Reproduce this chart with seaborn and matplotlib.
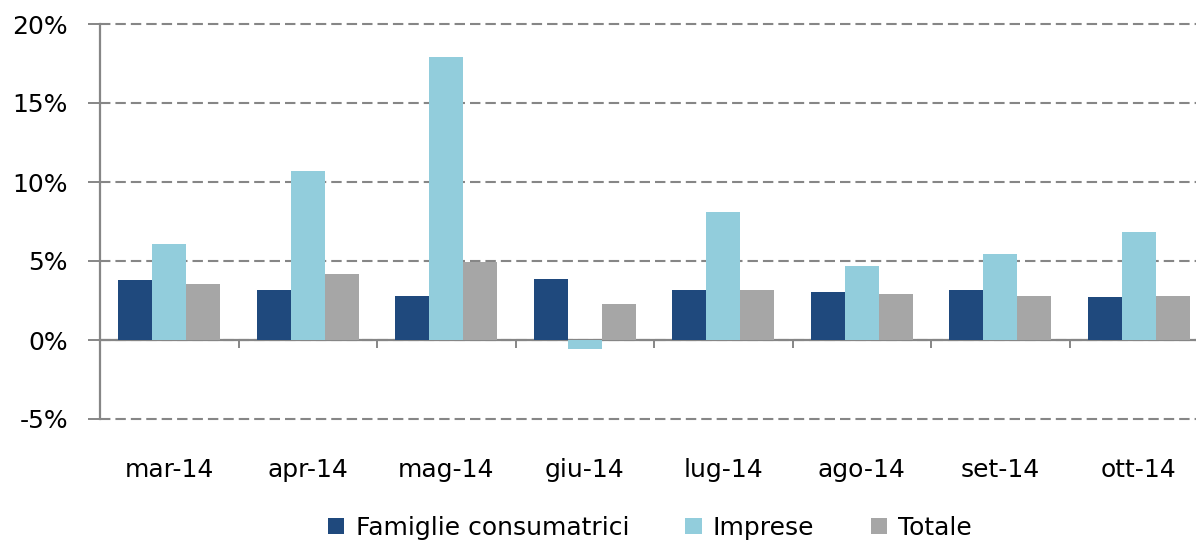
import matplotlib
matplotlib.use("Agg")
import matplotlib.pyplot as plt
import seaborn as sns
import pandas as pd
from matplotlib.ticker import FuncFormatter, MultipleLocator

# Monthly growth rates (%) by borrower type
mesi = ["mar-14", "apr-14", "mag-14", "giu-14", "lug-14", "ago-14", "set-14", "ott-14"]
famiglie = [3.80, 3.17, 2.79, 3.83, 3.17, 3.03, 3.17, 2.69]
imprese = [6.05, 10.72, 17.89, -0.57, 8.07, 4.69, 5.42, 6.83]
totale = [3.55, 4.18, 4.94, 2.29, 3.17, 2.92, 2.80, 2.80]

serie = ["Famiglie consumatrici", "Imprese", "Totale"]
colori = ["#1F497D", "#92CDDC", "#A6A6A6"]

df = pd.DataFrame({
    "mese": mesi * 3,
    "valore": famiglie + imprese + totale,
    "serie": [serie[0]] * len(mesi) + [serie[1]] * len(mesi) + [serie[2]] * len(mesi),
})

sns.set_theme(style="white")
plt.rcParams["font.family"] = ["DejaVu Sans"]

W, H = 1196, 542
fig = plt.figure(figsize=(W / 100, H / 100), dpi=100)
ax = fig.add_axes([100 / W, (H - 419) / H, (1208 - 100) / W, (419 - 24) / H])

grey = "#868686"

sns.barplot(data=df, x="mese", y="valore", hue="serie", order=mesi,
            hue_order=serie, palette=colori, width=0.74, gap=0,
            saturation=1, ax=ax, legend=True, zorder=3,
            edgecolor="none", linewidth=0)

ax.set_xlim(-0.5, len(mesi) - 0.5)
ax.set_ylim(-5, 20)
ax.yaxis.set_major_locator(MultipleLocator(5))
ax.yaxis.set_major_formatter(FuncFormatter(lambda v, p: f"{v:.0f}%"))

# dashed horizontal gridlines
ax.yaxis.grid(True, color=grey, linestyle=(0, (5, 2.4)), linewidth=1.5, zorder=0)
ax.xaxis.grid(False)
for gl in ax.get_ygridlines():
    gl.set_clip_on(False)

for s in ["top", "right", "bottom"]:
    ax.spines[s].set_visible(False)
ax.spines["left"].set_color(grey)
ax.spines["left"].set_linewidth(1.6)

ax.tick_params(axis="y", which="major", direction="out", length=9, width=1.4,
               color=grey, pad=14, labelsize=18, labelcolor="#000000", left=True)
ax.tick_params(axis="x", which="major", length=0, pad=28, labelsize=18,
               labelcolor="#000000")
ax.set_xlabel("")
ax.set_ylabel("")

# category axis drawn along the zero line, with ticks between groups
zero_frac = (0 - (-5)) / 25
sec = ax.secondary_xaxis(zero_frac)
sec.spines["bottom"].set_color(grey)
sec.spines["bottom"].set_linewidth(1.6)
sec.set_xticks([i + 0.5 for i in range(len(mesi))])
sec.set_xticklabels([])
sec.tick_params(axis="x", direction="out", length=6, width=1.4, color=grey)

# legend below the plot
handles, labels = ax.get_legend_handles_labels()
ax.legend_.remove()
fig.legend(handles, labels, loc="center", bbox_to_anchor=(650 / W, 1 - 528 / H),
           ncol=3, frameon=False, fontsize=18, labelcolor="#000000",
           handlelength=0.65, handleheight=0.6, handletextpad=0.45,
           columnspacing=2.25, borderaxespad=0, borderpad=0)

fig.savefig("out.png", dpi=100, facecolor="white")
